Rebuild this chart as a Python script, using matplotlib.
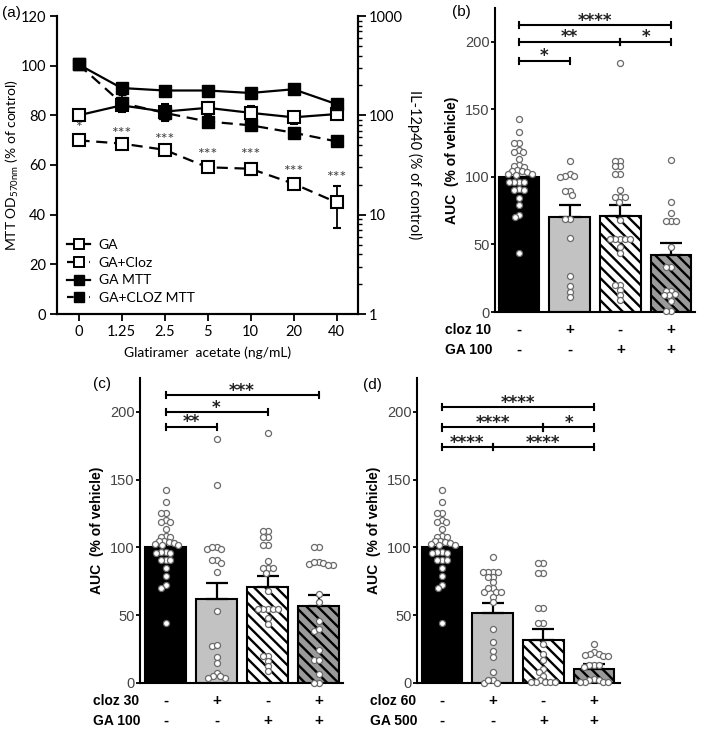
import numpy as np
import matplotlib
matplotlib.use('Agg')
import matplotlib.pyplot as plt
from matplotlib.lines import Line2D

plt.rcParams['font.family'] = ['Liberation Sans', 'DejaVu Sans']
plt.rcParams['hatch.linewidth'] = 1.7
plt.rcParams['mathtext.fontset'] = 'custom'
plt.rcParams['mathtext.rm'] = 'Lato'

# ---------------- Panel (a) data ----------------
ga_conc = ['0', '1.25', '2.5', '5', '10', '20', '40']
il_ga = [100, 126, 109, 119, 106, 95.5, 103]
il_ga_err = [2, 18, 22, 18, 17, 13, 14]
il_ga_cloz = [56, 52, 45, 30, 29, 20.5, 13.3]
il_ga_cloz_err = [5, 2, 2, 3, 4, 1.5, 6]
stars_a = ['*', '***', '***', '***', '***', '***', '***']
mtt_ga = [100.5, 91, 90, 90, 89, 90.5, 84.5]
mtt_ga_err = [1, 1.5, 1.5, 1.5, 1.5, 1.2, 1.5]
mtt_ga_cloz = [100.5, 85, 81, 77.5, 76, 73, 69.5]
mtt_ga_cloz_err = [1, 3, 3, 1.5, 1.5, 1.5, 1.2]

# ---------------- Panels (b)-(d) data ----------------
vehicle = [142.7, 133.3, 125.2, 125.2, 120, 118.5, 118.5, 113.6, 108.5, 107.5,
           108, 105, 104.5, 104, 103.5, 102.5, 102, 101.5, 96.5, 96.3, 96, 96.2,
           91, 90.6, 90.5, 84.5, 79, 72, 70, 44]
ga100 = [184.4, 111.8, 111.8, 108, 108, 102, 102, 90, 85, 85, 85, 81.5, 68,
         54.3, 54.3, 54.3, 54.3, 54.3, 48, 43.7, 19.8, 19.8, 16, 12.3, 8.6]
cloz10 = [112, 102.5, 101, 100, 101, 89.6, 89.6, 86.4, 69, 69, 55, 27, 19, 15, 11]
cloz10_ga100 = [112.8, 81.5, 73.3, 67.4, 67.4, 67.4, 48.1, 33.3, 33.3, 15.6,
                15.6, 13.6, 12.3, 12.3, 8, 0.5, 0.5]
cloz30 = [180.3, 145.8, 100.6, 98.9, 98.9, 100.6, 90.8, 88.8, 90.8, 82.1, 53.3,
          27.1, 27.9, 19.2, 14.8, 7.4, 4.9, 3.7, 3.7, 4.9]
cloz30_ga100 = [100.6, 100.6, 89, 88.3, 87, 87, 87.8, 89, 65.6, 59.9, 45.9,
                38.5, 39.5, 24.7, 16.8, 17.3, 6.9, 0.3, 0.3]
cloz60 = [93.2, 82.1, 82.1, 82.1, 82.1, 78, 74.2, 78, 69.8, 67.3, 67.3, 67.3,
          69.8, 63.6, 59.4, 40.2, 30.3, 23.4, 19.2, 8.1, 2.5, 0.3, 0.3, 2.5]
ga500 = [88.8, 88.8, 80.9, 80.9, 55, 55, 44.4, 44.4, 28.6, 21.2, 17, 10, 8, 5,
         2, 0.5, 0.5, 0.5, 0.5, 0.5]
cloz60_ga500 = [29.1, 22.9, 21.2, 21.2, 20.5, 20, 20, 13, 13, 13, 12, 3, 2.5,
                2, 1, 0.5, 0.5, 0.5]

means_b = [100, 70, 71, 42]
sems_b = [3.7, 9, 8, 9]
means_c = [100, 62, 71, 57]
sems_c = [3.7, 12, 8, 8]
means_d = [100, 52, 32, 10]
sems_d = [3.7, 7, 7.5, 4]

cloz_row = ['-', '+', '-', '+']
ga_row = ['-', '-', '+', '+']

# brackets: (i, j, y, stars)
brackets_b = [(0, 1, 186, '*'), (0, 2, 200, '**'), (2, 3, 200, '*'), (0, 3, 212.5, '****')]
brackets_c = [(0, 1, 189, '**'), (0, 2, 200, '*'), (0, 3, 212.5, '***')]
brackets_d = [(0, 1, 174, '****'), (1, 3, 174, '****'), (0, 2, 188.5, '****'),
              (2, 3, 188.5, '*'), (0, 3, 203.5, '****')]

W, H = 705, 734
fig = plt.figure(figsize=(W / 100, H / 100), dpi=100)


def rect(l, t, r, b):
    return [l / W, 1 - b / H, (r - l) / W, (b - t) / H]


# ---------------- Panel (a) ----------------
LATO = 'Lato'
ax = fig.add_axes(rect(57, 16, 358, 314))
ax2 = ax.twinx()
ax.set_zorder(2)
ax.patch.set_visible(False)
ax2.set_zorder(1)
x = np.arange(len(ga_conc))
ms = 9
ax2.set_yscale('log')
ax2.errorbar(x, il_ga, yerr=il_ga_err, fmt='s-', color='black', mfc='white',
             mec='black', ms=ms, mew=1.5, lw=1.6, capsize=3, elinewidth=1.3, zorder=3)
ax2.errorbar(x, il_ga_cloz, yerr=il_ga_cloz_err, fmt='s--', color='black', mfc='white',
             mec='black', ms=ms, mew=1.5, lw=1.6, capsize=3, elinewidth=1.3,
             dashes=(5, 3), zorder=3)
for i, s in enumerate(stars_a):
    ax2.annotate(s, (i, il_ga_cloz[i] + il_ga_cloz_err[i]), xytext=(0, 6),
                 textcoords='offset points', ha='center', va='center',
                 fontsize=11.5, color='#444444', family=LATO)
ax.errorbar(x, mtt_ga, yerr=mtt_ga_err, fmt='s-', color='black', mfc='black',
            ms=ms, lw=1.6, capsize=3, elinewidth=1.3, zorder=3)
ax.errorbar(x, mtt_ga_cloz, yerr=mtt_ga_cloz_err, fmt='s--', color='black', mfc='black',
            ms=ms, lw=1.6, capsize=3, elinewidth=1.3, dashes=(5, 3), zorder=3)
ax.set_xlim(-0.5, 6.5)
ax.set_ylim(0, 120)
ax.set_yticks([0, 20, 40, 60, 80, 100, 120])
ax2.set_ylim(1, 1000)
ax2.set_yticks([1, 10, 100, 1000])
ax2.set_yticklabels(['1', '10', '100', '1000'])
ax.set_xticks(x)
ax.set_xticklabels(ga_conc)
for a in (ax, ax2):
    a.spines['top'].set_visible(False)
    for sp in a.spines.values():
        sp.set_linewidth(1.5)
ax.tick_params(axis='both', width=1.3, length=5, labelsize=10.5, pad=3)
ax2.tick_params(axis='y', which='major', width=1.3, length=6, labelsize=10.5, pad=2)
ax2.tick_params(axis='y', which='minor', width=1.0, length=3)
for lab in ax.get_xticklabels() + ax.get_yticklabels() + ax2.get_yticklabels():
    lab.set_family(LATO)
ax.set_xlabel('Glatiramer  acetate (ng/mL)', family=LATO, fontsize=10, labelpad=5)
ax.set_ylabel(r'MTT OD$\mathregular{_{570nm}}$ (% of control)', family=LATO, fontsize=10)
ax.yaxis.set_label_coords(-0.118, 0.5)
ax2.set_ylabel('IL-12p40 (% of control)', family=LATO, fontsize=10.5, rotation=270, labelpad=14)
handles = [
    Line2D([], [], color='black', marker='s', mfc='white', ms=7, mew=1.4, lw=1.6),
    Line2D([], [], color='black', marker='s', mfc='white', ms=7, mew=1.4, lw=1.6, ls='--', dashes=(3, 2)),
    Line2D([], [], color='black', marker='s', mfc='black', ms=7, lw=1.6),
    Line2D([], [], color='black', marker='s', mfc='black', ms=7, lw=1.6, ls='--', dashes=(3, 2)),
]
leg = ax.legend(handles, ['GA', 'GA+Cloz', 'GA MTT', 'GA+CLOZ MTT'], loc='lower left',
                bbox_to_anchor=(0.0, 0.0), frameon=False, handlelength=1.7,
                handletextpad=0.6, labelspacing=0.42, borderaxespad=0.3,
                prop={'family': LATO, 'size': 10})


# ---------------- Bar panels ----------------
def swarm(vals, ppx, ppy, d):
    vals = np.asarray(vals, float)
    order = np.argsort(-vals)
    placed = []
    offs = np.zeros(len(vals))
    for k in order:
        y = vals[k] * ppy
        cands = [0.0]
        for (px, py) in placed:
            dy = abs(py - y)
            if dy < d:
                dx = np.sqrt(d * d - dy * dy)
                cands += [px + dx, px - dx]
        cands = sorted(cands, key=lambda c: (abs(c), c))
        for c in cands:
            ok = all((c - px) ** 2 + (y - py) ** 2 >= d * d - 1e-6 for (px, py) in placed)
            if ok:
                break
        placed.append((c, y))
        offs[k] = c / ppx
    return offs


def bar_panel(rect_px, groups, means, sems, brackets, cloz_lab, ga_lab, xlim, lab_x):
    l, t, r, b = rect_px
    a = fig.add_axes(rect(l, t, r, b))
    colors = ['black', '#c2c2c2', 'white', '#9a9a9a']
    hatches = [None, None, '\\\\\\', '\\\\\\']
    a.set_xlim(*xlim)
    a.set_ylim(0, 225)
    ppx = (r - l) / (xlim[1] - xlim[0])
    ppy = (b - t) / 225.0
    for i in range(4):
        a.bar(i, means[i], 0.8, color=colors[i], edgecolor='black', lw=1.5,
              hatch=hatches[i], zorder=2)
        a.errorbar(i, means[i], yerr=[[0], [sems[i]]], color='black', capsize=8,
                   elinewidth=1.6, capthick=1.6, zorder=3)
        offs = swarm(groups[i], ppx, ppy, 5.0)
        a.scatter(i + offs, groups[i], s=19, facecolor='white', edgecolor='#6a6a6a',
                  linewidths=0.9, zorder=4, clip_on=False)
    th = 2.3
    for (i, j, y, s) in brackets:
        a.plot([i, j], [y, y], color='black', lw=1.5, zorder=5, clip_on=False)
        for e in (i, j):
            a.plot([e, e], [y - th, y + th], color='black', lw=1.5, zorder=5, clip_on=False)
        a.text((i + j) / 2, y - 0.5, s, ha='center', va='baseline', fontsize=12,
               family='DejaVu Sans', fontweight='bold', color='#222222')
    for sp in ('top', 'right'):
        a.spines[sp].set_visible(False)
    for sp in ('left', 'bottom'):
        a.spines[sp].set_linewidth(1.5)
    a.set_yticks([0, 50, 100, 150, 200])
    a.tick_params(axis='y', length=3, width=1.3, labelsize=10.5, labelcolor='#444444', pad=1)
    a.tick_params(axis='x', length=0, labelbottom=False)
    a.set_ylabel('AUC  (% of vehicle)', fontsize=10, fontweight='bold', labelpad=4)
    row1 = -18.0 / (b - t)
    row2 = -38.0 / (b - t)
    a.text(lab_x, row1, cloz_lab, transform=a.transAxes, ha='left', va='center',
           fontsize=10, fontweight='bold')
    a.text(lab_x, row2, ga_lab, transform=a.transAxes, ha='left', va='center',
           fontsize=10, fontweight='bold')
    for i in range(4):
        a.text(i, row1, cloz_row[i], transform=a.get_xaxis_transform(), ha='center',
               va='center', fontsize=11, fontweight='bold')
        a.text(i, row2, ga_row[i], transform=a.get_xaxis_transform(), ha='center',
               va='center', fontsize=11, fontweight='bold')
    return a


bar_panel((495, 8, 695, 312), [vehicle, cloz10, ga100, cloz10_ga100], means_b, sems_b,
          brackets_b, 'cloz 10', 'GA 100', (-0.47, 3.47), -0.25)
bar_panel((140, 378, 343, 683), [vehicle, cloz30, ga100, cloz30_ga100], means_c, sems_c,
          brackets_c, 'cloz 30', 'GA 100', (-0.5, 3.48), -0.232)
bar_panel((417, 378, 620, 683), [vehicle, cloz60, ga500, cloz60_ga500], means_d, sems_d,
          brackets_d, 'cloz 60', 'GA 500', (-0.49, 3.51), -0.232)

fig.text(2 / W, 1 - 13 / H, '(a)', fontsize=11, va='center', ha='left')
fig.text(452 / W, 1 - 12 / H, '(b)', fontsize=11, va='center', ha='left')
fig.text(93 / W, 1 - 384 / H, '(c)', fontsize=11, va='center', ha='left')
fig.text(363 / W, 1 - 385 / H, '(d)', fontsize=11, va='center', ha='left')

fig.savefig('out.png', dpi=100)
